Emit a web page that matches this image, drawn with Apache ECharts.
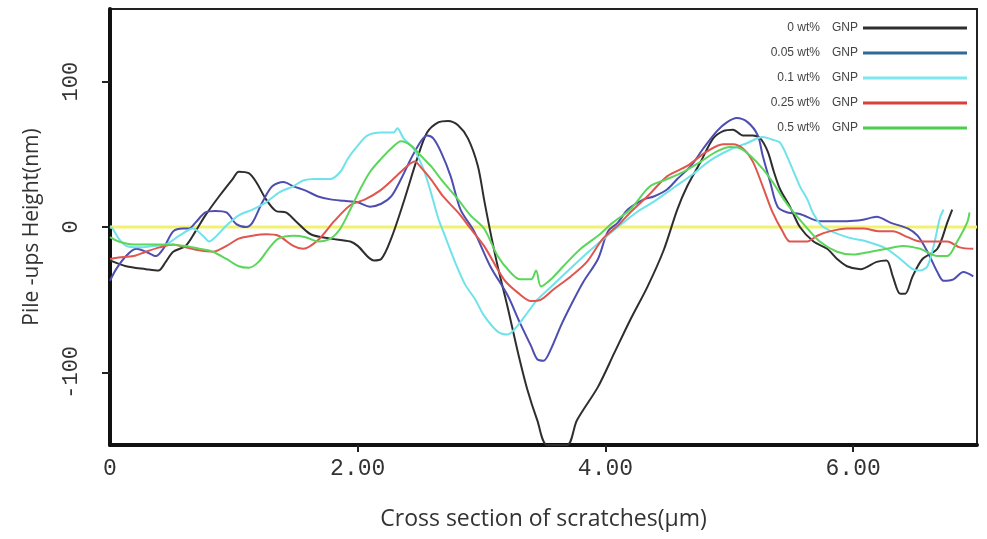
<!DOCTYPE html>
<html>
<head>
<meta charset="utf-8">
<script src="https://cdn.jsdelivr.net/npm/echarts@6/dist/echarts.min.js"></script>
<style>html,body{margin:0;padding:0;background:#fff}#c{width:987px;height:539px}</style>
</head>
<body>
<div id="c"></div>
<script>
// ---- data (x in µm, y in nm) ----
var legendNames = ['0 wt%', '0.05 wt%', '0.1 wt%', '0.25 wt%', '0.5 wt%'];
var xTickLabels = [0, 2, 4, 6];
var yTickLabels = [-100, 0, 100];
var zeroLine = [[0, 0], [7, 0]];

var gnp0 = [[0,-23],[0.13,-27],[0.29,-29],[0.39,-30],[0.45,-24],[0.51,-17],[0.61,-13],[0.69,-3],[0.77,8],[0.88,21],[0.99,33],[1.04,38],[1.12,37],[1.18,31],[1.26,19],[1.34,11],[1.42,10],[1.50,4],[1.62,-5],[1.78,-8],[1.94,-10],[2.0,-13],[2.13,-23],[2.19,-22],[2.27,-8],[2.37,17],[2.48,47],[2.56,65],[2.65,72],[2.73,73],[2.81,70],[2.89,61],[2.97,42],[3.02,19],[3.07,-3],[3.13,-27],[3.21,-55],[3.29,-85],[3.37,-112],[3.45,-133],[3.53,-150],[3.69,-150],[3.77,-133],[3.94,-110],[4.07,-87],[4.20,-64],[4.34,-41],[4.47,-16],[4.58,12],[4.66,28],[4.77,45],[4.87,61],[4.95,66],[5.03,67],[5.11,63],[5.19,63],[5.25,61],[5.31,52],[5.36,38],[5.41,26],[5.49,14],[5.57,0],[5.68,-10],[5.79,-15],[5.87,-22],[5.95,-27],[6.06,-29],[6.19,-24],[6.27,-23],[6.32,-34],[6.38,-46],[6.42,-46],[6.48,-34],[6.56,-22],[6.68,-15],[6.76,3],[6.80,12]];

var gnp005 = [[0,-37],[0.05,-29],[0.13,-20],[0.21,-15],[0.29,-17],[0.37,-20],[0.43,-15],[0.51,-3],[0.59,-1],[0.64,-1],[0.69,3],[0.77,10],[0.85,11],[0.94,10],[1.02,2],[1.10,0],[1.15,3],[1.23,17],[1.31,28],[1.40,31],[1.48,28],[1.58,25],[1.68,21],[1.78,19],[1.89,18],[2.0,17],[2.10,14],[2.19,16],[2.27,21],[2.35,33],[2.43,47],[2.51,59],[2.56,63],[2.61,61],[2.67,52],[2.75,35],[2.83,12],[2.94,-3],[3.07,-27],[3.21,-47],[3.31,-66],[3.40,-82],[3.45,-91],[3.50,-92],[3.56,-84],[3.64,-68],[3.72,-54],[3.82,-38],[3.94,-22],[4.02,-3],[4.10,3],[4.18,12],[4.31,19],[4.39,21],[4.50,26],[4.58,33],[4.69,42],[4.79,54],[4.90,66],[4.98,72],[5.06,75],[5.15,72],[5.23,63],[5.27,49],[5.33,31],[5.39,14],[5.47,10],[5.57,9],[5.73,4],[5.95,4],[6.08,5],[6.19,7],[6.30,3],[6.44,-1],[6.52,-6],[6.60,-17],[6.68,-31],[6.73,-37],[6.81,-36],[6.89,-31],[6.97,-34]];

var gnp01 = [[0,0],[0.02,-1],[0.07,-8],[0.13,-13],[0.23,-14],[0.35,-13],[0.45,-12],[0.56,-6],[0.67,-1],[0.75,-6],[0.80,-10],[0.85,-7],[0.94,1],[1.04,8],[1.15,12],[1.26,17],[1.37,24],[1.48,28],[1.56,32],[1.65,33],[1.78,33],[1.86,38],[1.92,47],[2.0,56],[2.08,63],[2.19,65],[2.29,65],[2.32,68],[2.37,61],[2.45,54],[2.53,40],[2.59,24],[2.65,6],[2.69,-3],[2.79,-25],[2.87,-40],[2.95,-50],[3.02,-61],[3.13,-72],[3.21,-74],[3.29,-68],[3.37,-59],[3.45,-50],[3.55,-42],[3.70,-30],[3.85,-18],[3.96,-10],[4.10,0],[4.25,10],[4.40,18],[4.55,27],[4.70,36],[4.85,46],[5.00,53],[5.15,58],[5.27,62],[5.35,60],[5.41,58],[5.49,44],[5.57,28],[5.63,19],[5.68,9],[5.76,0],[5.95,-7],[6.11,-10],[6.27,-15],[6.38,-22],[6.48,-29],[6.54,-30],[6.60,-27],[6.65,-13],[6.70,6],[6.73,12]];

var gnp025 = [[0,-22],[0.07,-21],[0.19,-20],[0.29,-17],[0.40,-14],[0.51,-12],[0.61,-14],[0.72,-16],[0.83,-17],[0.94,-13],[1.04,-8],[1.15,-6],[1.26,-5],[1.36,-6],[1.48,-13],[1.56,-15],[1.68,-9],[1.81,4],[1.94,15],[2.06,19],[2.18,25],[2.30,34],[2.40,42],[2.46,45],[2.51,41],[2.59,33],[2.69,21],[2.81,10],[2.91,-1],[3.02,-13],[3.18,-36],[3.29,-45],[3.40,-51],[3.48,-50],[3.58,-43],[3.72,-34],[3.85,-24],[3.98,-8],[4.10,1],[4.20,10],[4.35,22],[4.50,35],[4.66,42],[4.82,52],[4.95,57],[5.03,57],[5.11,54],[5.19,45],[5.27,28],[5.35,10],[5.43,-3],[5.49,-10],[5.57,-10],[5.63,-10],[5.71,-6],[5.81,-3],[5.95,-1],[6.08,-1],[6.22,-3],[6.32,-3],[6.44,-7],[6.54,-10],[6.65,-10],[6.76,-10],[6.86,-14],[6.97,-15]];

var gnp05 = [[0,-7],[0.07,-10],[0.19,-12],[0.40,-12],[0.61,-13],[0.72,-15],[0.83,-17],[0.94,-22],[1.04,-27],[1.12,-28],[1.20,-24],[1.28,-15],[1.36,-8],[1.48,-6],[1.58,-7],[1.68,-10],[1.78,-8],[1.86,-1],[1.94,12],[2.02,26],[2.10,38],[2.19,47],[2.27,54],[2.35,59],[2.43,56],[2.51,49],[2.59,42],[2.69,31],[2.81,19],[2.91,8],[3.02,-1],[3.13,-20],[3.23,-31],[3.31,-36],[3.40,-36],[3.44,-30],[3.48,-41],[3.56,-36],[3.66,-27],[3.80,-15],[3.94,-6],[4.06,3],[4.20,12],[4.36,28],[4.50,33],[4.63,38],[4.77,45],[4.90,52],[5.01,55],[5.09,54],[5.17,49],[5.27,40],[5.35,31],[5.44,19],[5.52,10],[5.63,-1],[5.73,-10],[5.87,-17],[6.0,-19],[6.14,-17],[6.27,-15],[6.40,-13],[6.54,-15],[6.68,-20],[6.76,-20],[6.84,-10],[6.92,3],[6.94,10]];

var seriesData = [gnp0, gnp005, gnp01, gnp025, gnp05];
var colors = ['#2e2e2e', '#4e4db0', '#6fe2ea', '#e0554e', '#5bd65b'];
var legendColors = ['#2e2e2e', '#2f6a98', '#7ee8ee', '#d8403a', '#4ccc4c'];

var chart = echarts.init(document.getElementById('c'), null, {renderer: 'canvas'});
var series = [{
  name: 'zero', type: 'line', data: zeroLine, symbol: 'none', silent: true, z: 1,
  lineStyle: {color: '#f2f270', width: 3}
}];
legendNames.forEach(function (n, i) {
  series.push({
    name: n + ' GNP', type: 'line', data: seriesData[i], symbol: 'none', smooth: 0.3,
    z: 2 + i, lineStyle: {color: colors[i], width: 2}, itemStyle: {color: colors[i]}
  });
});

var mono = 'Liberation Mono';
chart.setOption({
  animation: false,
  backgroundColor: '#fff',
  grid: {left: 110, right: 10, top: 9, bottom: 94, show: true, borderColor: '#222', borderWidth: 2},
  legend: {
    data: legendNames.map(function (n, i) {
      return {name: n + ' GNP', icon: 'rect', itemStyle: {color: legendColors[i]}};
    }),
    orient: 'vertical', right: 15, top: 17, align: 'right',
    itemWidth: 104, itemHeight: 3, itemGap: 13,
    formatter: function (name) {
      return '{a|' + name.replace(' GNP', '') + '}{b|GNP}';
    },
    textStyle: {
      fontFamily: 'Liberation Sans', fontSize: 12, color: '#444',
      rich: {
        a: {width: 64, align: 'right', fontFamily: 'Liberation Sans', fontSize: 12, color: '#444', height: 14},
        b: {padding: [0, 0, 0, 12], fontFamily: 'Liberation Sans', fontSize: 12, color: '#444', height: 14}
      }
    }
  },
  xAxis: {
    type: 'value', min: 0, max: 7,
    name: 'Cross section of scratches(μm)', nameLocation: 'middle', nameGap: 63,
    nameTextStyle: {fontFamily: 'Open Sans', fontSize: 23, color: '#333'},
    axisLine: {show: true, onZero: false, lineStyle: {color: '#111', width: 4}},
    axisTick: {show: true, length: 7, lineStyle: {color: '#222', width: 2}, customValues: [2, 4, 6]},
    axisLabel: {
      customValues: xTickLabels, margin: 12,
      fontFamily: mono, fontSize: 23, color: '#333',
      formatter: function (v) { return v === 0 ? '0' : v.toFixed(2); }
    },
    splitLine: {show: false}
  },
  yAxis: {
    type: 'value', min: -150, max: 150,
    name: 'Pile -ups Height(nm)', nameLocation: 'middle', nameGap: 67,
    nameTextStyle: {fontFamily: 'Open Sans', fontSize: 21, color: '#333'},
    axisLine: {show: true, onZero: false, lineStyle: {color: '#111', width: 4}},
    axisTick: {show: true, length: 8, lineStyle: {color: '#222', width: 2}, customValues: yTickLabels},
    axisLabel: {
      customValues: yTickLabels, rotate: 90, margin: 28,
      fontFamily: mono, fontSize: 22, color: '#333'
    },
    splitLine: {show: false}
  },
  series: series
});
</script>
</body>
</html>
